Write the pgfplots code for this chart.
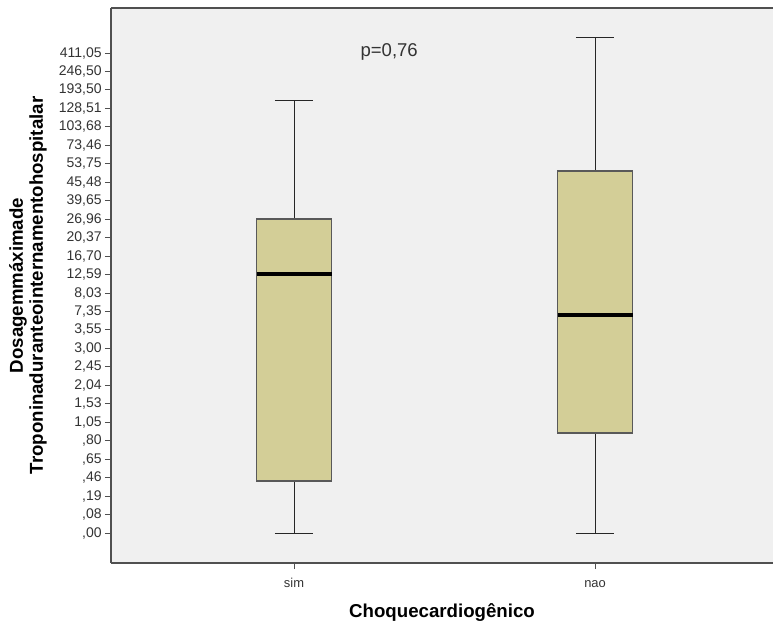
\documentclass[border=0pt]{standalone}
\usepackage{fontspec}
\setmainfont{Liberation Sans}
\usepackage{pgfplots}
\pgfplotsset{compat=1.18}
\usepgfplotslibrary{statistics}
\definecolor{bg}{HTML}{F0F0F0}
\definecolor{boxfill}{HTML}{D3CE97}
\definecolor{frame}{HTML}{505050}
\begin{document}
\begin{tikzpicture}
\begin{axis}[
 scale only axis, width=496.5pt, height=416.25pt,
 xmin=0.392, xmax=2.591, ymin=-1.625, ymax=28.44,
 axis x line*=bottom, axis y line*=left,
 axis line style={frame, line width=1.1pt},
 axis background/.style={fill=bg},
 xtick={1,2}, xticklabels={sim,nao},
 ytick={0,...,26},
 yticklabels={{,00},{,08},{,19},{,46},{,65},{,80},{1,05},{1,53},{2,04},{2,45},{3,00},{3,55},{7,35},{8,03},{12,59},{16,70},{20,37},{26,96},{39,65},{45,48},{53,75},{73,46},{103,68},{128,51},{193,50},{246,50},{411,05}},
 tick align=outside, major tick length=4.5pt,
 tick style={frame, line width=0.7pt},
 yticklabel style={font=\fontsize{10.5}{12}\selectfont, color=black!80, xshift=1pt},
 xticklabel style={font=\fontsize{9.7}{11}\selectfont, color=black!80, yshift=-3pt, text height=1.45ex},
 xlabel={Choquecardiogênico},
 xlabel style={font=\bfseries\fontsize{14}{16}\selectfont, at={(axis description cs:0.5,-0.0973)}, anchor=base},
 ylabel={Dosagemmáximade\\Troponinaduranteointernamentohospitalar},
 ylabel style={font=\bfseries\fontsize{14}{15}\selectfont, align=center, at={(axis description cs:-0.09,0.5)}, anchor=south},
 boxplot/draw direction=y,
 boxplot/box extend=0.249,
 boxplot/whisker extend=0.127,
 boxplot/every box/.style={draw=black!65, fill=boxfill, line width=1.1pt},
 boxplot/every whisker/.style={black!85, line width=0.75pt},
 boxplot/every median/.style={black, line width=2.4pt},
]
\addplot[solid, black, boxplot prepared={lower whisker=0, lower quartile=2.82, median=14.03, upper quartile=17.0, upper whisker=23.45, draw position=1}] coordinates {};
\addplot[solid, black, boxplot prepared={lower whisker=0, lower quartile=5.42, median=11.81, upper quartile=19.61, upper whisker=26.85, draw position=2}] coordinates {};
\node[anchor=base, font=\fontsize{13.9}{16}\selectfont, color=black!80] at (axis cs:1.316,25.79) {p=0,76};
\draw[frame, line width=1.1pt] (rel axis cs:0,1) -- (rel axis cs:1,1);
\end{axis}
\pgfresetboundingbox
\useasboundingbox ([shift={(-83.25pt,-46.5pt)}]current axis.south west) rectangle ([shift={(0pt,6pt)}]current axis.north east);
\end{tikzpicture}
\end{document}
